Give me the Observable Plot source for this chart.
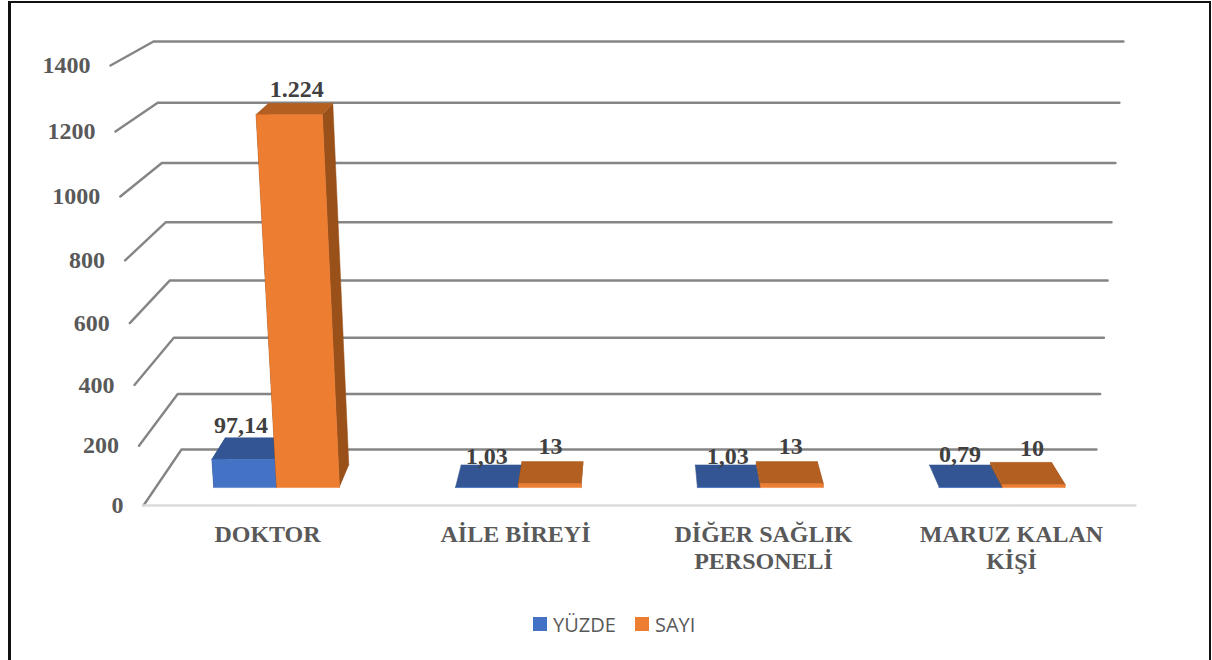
<!DOCTYPE html>
<html lang="tr">
<head>
<meta charset="utf-8">
<script src="https://cdn.jsdelivr.net/npm/d3@7"></script>
<script src="https://cdn.jsdelivr.net/npm/@observablehq/plot@0.6"></script>
<style>
  html, body { margin: 0; padding: 0; background: #fff; width: 1212px; height: 660px; overflow: hidden; }
  #frame { position: absolute; left: 8px; top: 1px; width: 1203px; height: 659px; box-sizing: border-box;
           border: 2px solid #111; border-left-width: 3px; border-bottom: none; pointer-events: none; }
  #legend { height: 55px; position: relative; font: 20px "Open Sans", sans-serif; color: #595959; }
  #legend span { position: absolute; top: 8px; line-height: 24px; }
  #legend i { position: absolute; top: 12px; width: 14px; height: 14px; }
</style>
</head>
<body>
<div id="chart"></div>
<div id="legend"></div>
<div id="frame"></div>
<script>
// Data
const categories = ["DOKTOR", "AİLE BİREYİ", "DİĞER SAĞLIK\nPERSONELİ", "MARUZ KALAN\nKİŞİ"];
const percentValues = [97.14, 1.03, 1.03, 0.79];
const countValues = [1224, 13, 13, 10];
const percentLabels = ["97,14", "1,03", "1,03", "0,79"];
const countLabels = ["1.224", "13", "13", "10"];
const valueTicks = [0, 200, 400, 600, 800, 1000, 1200, 1400];
const seriesNames = ["YÜZDE", "SAYI"];

// Colours
const frontColors = ["#4472C4", "#ED7D31"];
const topColors = ["#335593", "#B35F22"];
const sideColors = ["#294A82", "#9A5019"];

// 3D box of the chart as it is seen on screen
const maxValue = 1400, lerp = (a, b, t) => a + (b - a) * t;
const warp = t => t / (1 + 0.06 * (1 - t));
function project(u, v, d) {
  const f = warp(v / maxValue);
  const xL = lerp(lerp(143, 181, d), lerp(110, 153, d), f);
  const xR = lerp(lerp(1135, 1096, d), lerp(1167, 1123, d), f);
  return {x: lerp(xL, xR, u), y: lerp(lerp(505, 449, d), lerp(65, 41, d), f)};
}

// Grid: left wall and back wall at each tick; floor front edge
const grid = valueTicks.flatMap(v => [
  {v, ...project(0, v, 0)}, {v, ...project(0, v, 1)}, {v, ...project(1, v, 1)}
]);
const floorEdge = [project(0, 0, 0), project(1, 0, 0)];

// Bars as projected faces
const barWidth = 0.065, d0 = 0.32, d1 = 0.72;
const faces = [];
let faceId = 0;
function addFace(corners, color) {
  const id = faceId++;
  corners.forEach(c => faces.push({id, color, ...project(...c)}));
}
[percentValues, countValues].forEach((values, s) => {
  values.forEach((v, i) => {
    const c = (i + 0.5) / categories.length;
    const u0 = c + (s - 1) * barWidth, u1 = u0 + barWidth;
    addFace([[u0, 0, d0], [u0, v, d0], [u0, v, d1], [u0, 0, d1]], sideColors[s]);
    addFace([[u1, 0, d0], [u1, v, d0], [u1, v, d1], [u1, 0, d1]], sideColors[s]);
    addFace([[u0, v, d0], [u1, v, d0], [u1, v, d1], [u0, v, d1]], topColors[s]);
    addFace([[u0, 0, d0], [u1, 0, d0], [u1, v, d0], [u0, v, d0]], frontColors[s]);
  });
});

// Value labels above the bars
const labelNudgeX = [[-15, -5, 2, 0], [-4, -2, 4, 11]];
const labelNudgeY = [[-12, -9, -9, -11], [-14, -15, -15, -14]];
const valueLabels = [[percentValues, percentLabels], [countValues, countLabels]].flatMap(([values, labels], s) =>
  values.map((v, i) => {
    const u = (i + 0.5) / categories.length + (s - 0.5) * barWidth;
    const p = project(u, v, d1);
    return {x: p.x + labelNudgeX[s][i], y: p.y + labelNudgeY[s][i], text: labels[i]};
  }));

const tickLabels = valueTicks.map(v => ({text: String(v), ...project(0, v, 0)}));
const categoryLabels = categories.map((text, i) => ({text, x: project((i + 0.5) / categories.length, 0, 0).x}));

const serif = {fontFamily: "Liberation Serif", fontWeight: "bold", fontSize: 24};

const chart = Plot.plot({
  width: 1212, height: 605,
  margin: 0,
  x: {domain: [0, 1212], range: [0, 1212], axis: null},
  y: {domain: [0, 605], range: [0, 605], axis: null},
  color: {type: "identity"},
  marks: [
    Plot.line(grid, {x: "x", y: "y", z: "v", stroke: "#858585", strokeWidth: 2.4}),
    Plot.line(floorEdge, {x: "x", y: "y", stroke: "#dcdcdc", strokeWidth: 2.4}),
    Plot.line(faces, {x: "x", y: "y", z: "id", fill: "color", stroke: "color", strokeWidth: 0.5}),
    Plot.text(valueLabels, {x: "x", y: "y", text: "text", fill: "#404040", ...serif}),
    Plot.text(tickLabels, {x: "x", y: "y", text: "text", dx: -20, textAnchor: "end", fill: "#595959", ...serif}),
    Plot.text(categoryLabels, {x: "x", y: () => 522, text: "text", lineAnchor: "top", lineHeight: 1.14, fill: "#595959", ...serif})
  ]
});
document.getElementById("chart").appendChild(chart);
chart.style.display = "block";

// Legend below the plot
const legend = document.getElementById("legend");
const legendX = [[533, 553], [635, 655]];
seriesNames.forEach((name, s) => {
  const sw = document.createElement("i");
  sw.style.left = legendX[s][0] + "px";
  sw.style.background = frontColors[s];
  const t = document.createElement("span");
  t.style.left = legendX[s][1] + "px";
  t.textContent = name;
  legend.append(sw, t);
});
</script>
</body>
</html>
